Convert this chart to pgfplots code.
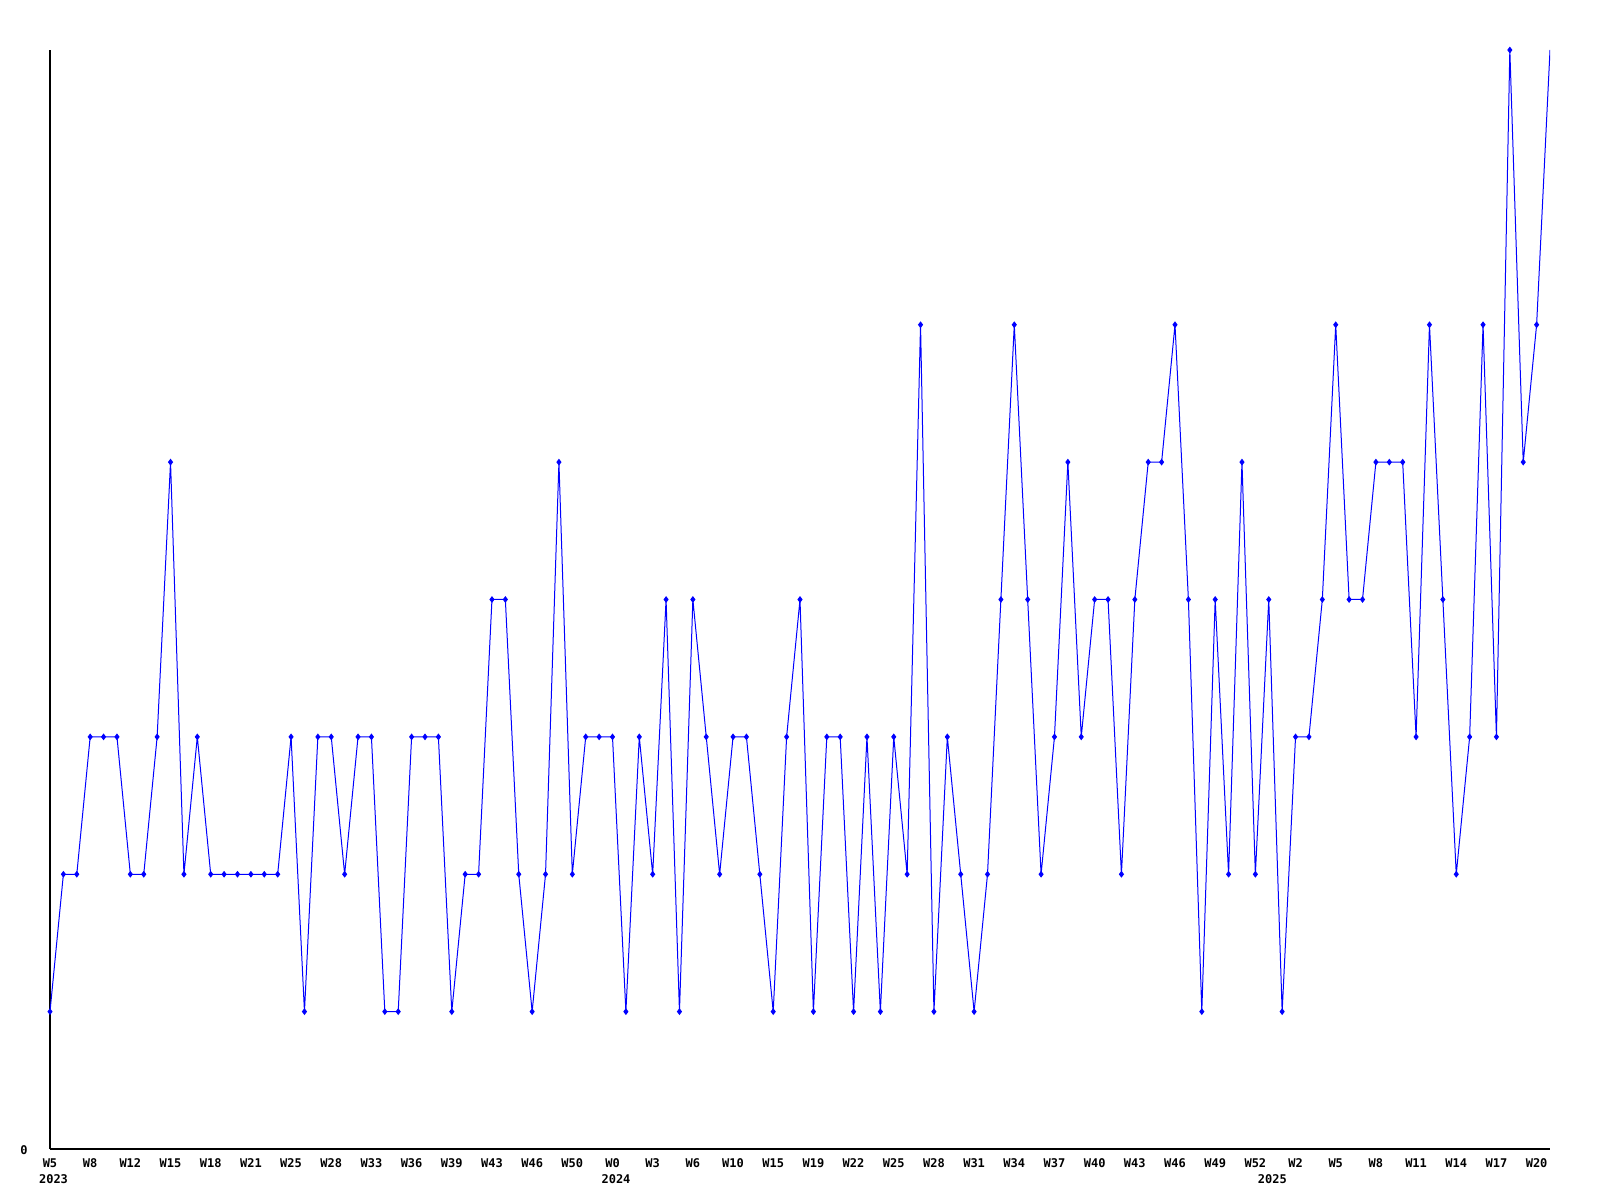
\documentclass[border=0pt]{standalone}
\usepackage{pgfplots}
\pgfplotsset{compat=1.18}
\usepackage{fontspec}
\setmainfont{DejaVu Sans Mono}
\begin{document}
\begin{tikzpicture}
\useasboundingbox (0,0) rectangle (800pt,600pt);
\begin{axis}[
  at={(25pt,25.5pt)}, anchor=south west,
  scale only axis, width=750pt, height=549.5pt,
  xmin=0, xmax=112, ymin=0, ymax=8,
  axis lines=left, axis line style={black, line width=0.65pt, -},
  clip mode=individual,
  xtick={0,3,...,111},
  xticklabels={W5,W8,W12,W15,W18,W21,W25,W28,W33,W36,W39,W43,W46,W50,W0,W3,W6,W10,W15,W19,W22,W25,W28,W31,W34,W37,W40,W43,W46,W49,W52,W2,W5,W8,W11,W14,W17,W20},
  xticklabel style={anchor=center, yshift=-7pt, font=\fontsize{6}{6}\selectfont\bfseries},
  extra x ticks={0,42,91},
  extra x tick labels={2023,2024,2025},
  extra x tick style={major tick length=0pt, xticklabel style={anchor=west, xshift=-9pt, yshift=-8pt, font=\fontsize{6}{6}\selectfont\bfseries}},
  ytick={0}, yticklabels={0},
  yticklabel style={anchor=center, xshift=-13pt, yshift=-0.5pt, font=\fontsize{6}{6}\selectfont\bfseries},
  major tick length=0pt,
  tick style={draw=none},
]
\addplot[blue, line width=0.5pt, mark=diamond*, mark size=1.3pt, mark indices={1,...,112}, mark options={fill=blue, draw=blue}] table[x=i, y=v] {
i v
0 1
1 2
2 2
3 3
4 3
5 3
6 2
7 2
8 3
9 5
10 2
11 3
12 2
13 2
14 2
15 2
16 2
17 2
18 3
19 1
20 3
21 3
22 2
23 3
24 3
25 1
26 1
27 3
28 3
29 3
30 1
31 2
32 2
33 4
34 4
35 2
36 1
37 2
38 5
39 2
40 3
41 3
42 3
43 1
44 3
45 2
46 4
47 1
48 4
49 3
50 2
51 3
52 3
53 2
54 1
55 3
56 4
57 1
58 3
59 3
60 1
61 3
62 1
63 3
64 2
65 6
66 1
67 3
68 2
69 1
70 2
71 4
72 6
73 4
74 2
75 3
76 5
77 3
78 4
79 4
80 2
81 4
82 5
83 5
84 6
85 4
86 1
87 4
88 2
89 5
90 2
91 4
92 1
93 3
94 3
95 4
96 6
97 4
98 4
99 5
100 5
101 5
102 3
103 6
104 4
105 2
106 3
107 6
108 3
109 8
110 5
111 6
112 8
};
\end{axis}
\end{tikzpicture}
\end{document}
